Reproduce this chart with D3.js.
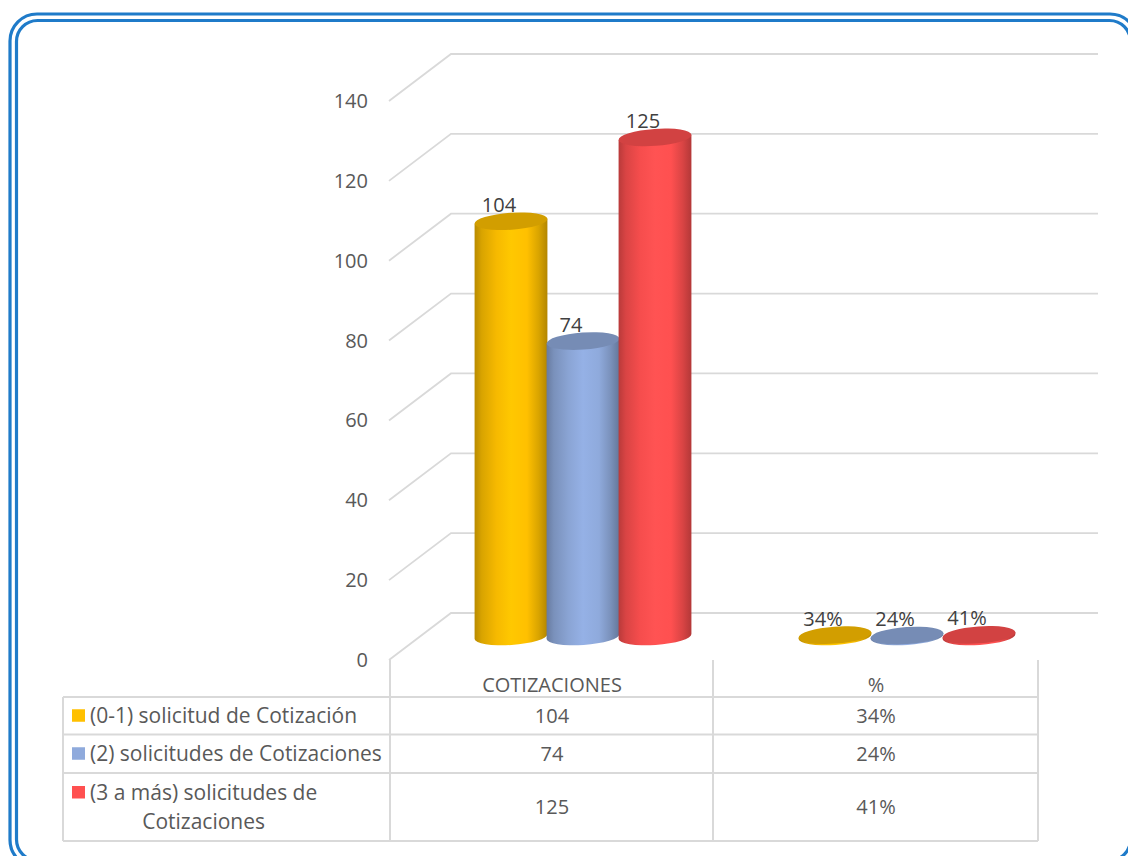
<!DOCTYPE html>
<html>
<head>
<meta charset="utf-8">
<script src="https://cdn.jsdelivr.net/npm/d3@7"></script>
<style>
  html, body { margin: 0; padding: 0; background: #ffffff; }
  svg { display: block; }
  text { font-family: "Open Sans", "Liberation Sans", sans-serif; }
</style>
</head>
<body>
<svg id="chart" width="1128" height="856"></svg>
<script>
// ---------- DATA ----------
const categories = ["COTIZACIONES", "%"];
const seriesNames = [
  "(0-1) solicitud de Cotización",
  "(2) solicitudes de Cotizaciones",
  "(3 a más) solicitudes de Cotizaciones"
];
const seriesLegendLines = [
  ["(0-1) solicitud de Cotización"],
  ["(2) solicitudes de Cotizaciones"],
  ["(3 a más) solicitudes de", "Cotizaciones"]
];
const cotizaciones = [104, 74, 125];
const porcentajes = [0.34, 0.24, 0.41];
const yTicks = [0, 20, 40, 60, 80, 100, 120, 140];
const seriesColors = ["#FFC000", "#8FAADC", "#FF5050"];

// ---------- SETUP ----------
const svg = d3.select("#chart");
const W = 1128, H = 856;
const textColor = "#595959";
const gridColor = "#d9d9d9";

// values[series][category]
const values = seriesNames.map((s, i) => [cotizaciones[i], porcentajes[i]]);
const fmt = [d3.format("d"), d3.format(".0%")];

// Outer double border
svg.append("rect").attr("x", 10).attr("y", 14).attr("width", 1127).attr("height", 853)
  .attr("rx", 27).attr("ry", 27).attr("fill", "none").attr("stroke", "#1f7bc9").attr("stroke-width", 3.2);
svg.append("rect").attr("x", 16.5).attr("y", 20.5).attr("width", 1114).attr("height", 840)
  .attr("rx", 21).attr("ry", 21).attr("fill", "none").attr("stroke", "#1f7bc9").attr("stroke-width", 3.2);

// Scales
const yFront = d3.scaleLinear().domain([0, 140]).range([660, 101]);
const yBack = d3.scaleLinear().domain([0, 140]).range([613, 54]);
const yMid = d3.scaleLinear().domain([0, 140]).range([636.5, 77.5]);
const xFront = d3.scaleBand().domain(categories).range([390, 1038]).padding(0);
const depthDx = 62;
const backLeft = 390 + depthDx - 1;
const backRight = 1098;
const seriesBand = d3.scaleBand().domain(d3.range(seriesNames.length)).range([-108, 108]).padding(0);

// Gridlines (3D wall)
const grid = svg.append("g");
yTicks.forEach(v => {
  grid.append("path")
    .attr("d", `M389,${yFront(v)} L${backLeft},${yBack(v)} L${backRight},${yBack(v)}`)
    .attr("fill", "none").attr("stroke", gridColor).attr("stroke-width", 1.8);
});

// Y axis labels
svg.append("g").selectAll("text").data(yTicks).join("text")
  .attr("x", 368).attr("y", d => yFront(d))
  .attr("dy", "0.35em")
  .attr("text-anchor", "end")
  .attr("font-size", 20).attr("fill", textColor)
  .text(d => d);

// Gradients
const defs = svg.append("defs");
seriesColors.forEach((c, i) => {
  const base = d3.color(c);
  const g = defs.append("linearGradient").attr("id", "grad" + i)
    .attr("x1", "0%").attr("x2", "100%").attr("y1", "0%").attr("y2", "0%");
  const stops = [
    [0, base.darker(0.9)],
    [0.1, base.darker(0.45)],
    [0.3, base.darker(0.1)],
    [0.5, base.brighter(0.12)],
    [0.72, base],
    [0.88, base.darker(0.45)],
    [1, base.darker(1.0)]
  ];
  stops.forEach(([o, col]) => g.append("stop").attr("offset", o).attr("stop-color", col.formatHex()));
});

// Cylinders
const rx = 36.5, ry = 8.5;
const theta = -4 * Math.PI / 180;
const cosT = Math.cos(theta), sinT = Math.sin(theta);
const bars = svg.append("g");
const labels = svg.append("g");

categories.forEach((cat, ci) => {
  const cxCat = xFront(cat) + xFront.bandwidth() / 2 + depthDx / 2;
  seriesNames.forEach((s, si) => {
    const v = values[si][ci];
    const cx = cxCat + seriesBand(si) + seriesBand.bandwidth() / 2;
    const yTop = yMid(v), yBot = yMid(0);
    const lx = cx - rx * cosT, rxp = cx + rx * cosT;
    const lyo = -rx * sinT, ryo = rx * sinT;
    const base = d3.color(seriesColors[si]);
    const topCol = base.darker(0.55).formatHex();
    const body = `M${lx},${yTop + lyo} L${lx},${yBot + lyo} A${rx},${ry} ${theta * 180 / Math.PI} 0 0 ${rxp},${yBot + ryo} L${rxp},${yTop + ryo} Z`;
    bars.append("path").attr("d", body).attr("fill", `url(#grad${si})`);
    bars.append("ellipse")
      .attr("cx", cx).attr("cy", yTop).attr("rx", rx).attr("ry", ry)
      .attr("transform", `rotate(${theta * 180 / Math.PI},${cx},${yTop})`)
      .attr("fill", topCol);
    labels.append("text")
      .attr("x", cx - 12).attr("y", yTop - ry - 1)
      .attr("text-anchor", "middle")
      .attr("font-size", 20).attr("fill", "#404040")
      .text(fmt[ci](v));
  });
});

// ---------- DATA TABLE ----------
const table = svg.append("g");
const tLeft = 63, tLegendRight = 390;
const rowLines = [697, 734.5, 773, 841];
const colLines = [390, 713, 1038];
const line = (x1, y1, x2, y2) => table.append("line")
  .attr("x1", x1).attr("y1", y1).attr("x2", x2).attr("y2", y2)
  .attr("stroke", gridColor).attr("stroke-width", 2);

// header verticals
colLines.forEach(x => line(x, 660, x, 697));
// horizontal lines
rowLines.forEach(y => line(tLeft, y, 1038, y));
// verticals in body
[tLeft, ...colLines].forEach(x => line(x, 697, x, 841));

// header labels
categories.forEach(cat => {
  table.append("text")
    .attr("x", xFront(cat) + xFront.bandwidth() / 2).attr("y", 685)
    .attr("dy", "0.35em").attr("text-anchor", "middle")
    .attr("font-size", 20).attr("fill", textColor).text(cat);
});

// rows
seriesNames.forEach((s, si) => {
  const y0 = rowLines[si], y1 = rowLines[si + 1];
  const cy = (y0 + y1) / 2;
  const lines = seriesLegendLines[si];
  const lh = 29;
  const firstY = cy - (lines.length - 1) * lh / 2;
  table.append("rect")
    .attr("x", 72).attr("y", firstY - 6.5).attr("width", 13).attr("height", 12.5)
    .attr("fill", seriesColors[si]);
  const t1 = table.append("text")
    .attr("x", 90).attr("y", firstY).attr("dy", "0.35em")
    .attr("font-size", 21).attr("fill", textColor).text(lines[0]);
  if (lines.length > 1) {
    const w = t1.node().getComputedTextLength();
    table.append("text")
      .attr("x", 90 + w / 2).attr("y", firstY + lh).attr("dy", "0.35em")
      .attr("text-anchor", "middle")
      .attr("font-size", 21).attr("fill", textColor).text(lines[1]);
  }
  categories.forEach((cat, ci) => {
    table.append("text")
      .attr("x", xFront(cat) + xFront.bandwidth() / 2).attr("y", cy)
      .attr("dy", "0.35em").attr("text-anchor", "middle")
      .attr("font-size", 20).attr("fill", textColor)
      .text(fmt[ci](values[si][ci]));
  });
});
</script>
</body>
</html>
